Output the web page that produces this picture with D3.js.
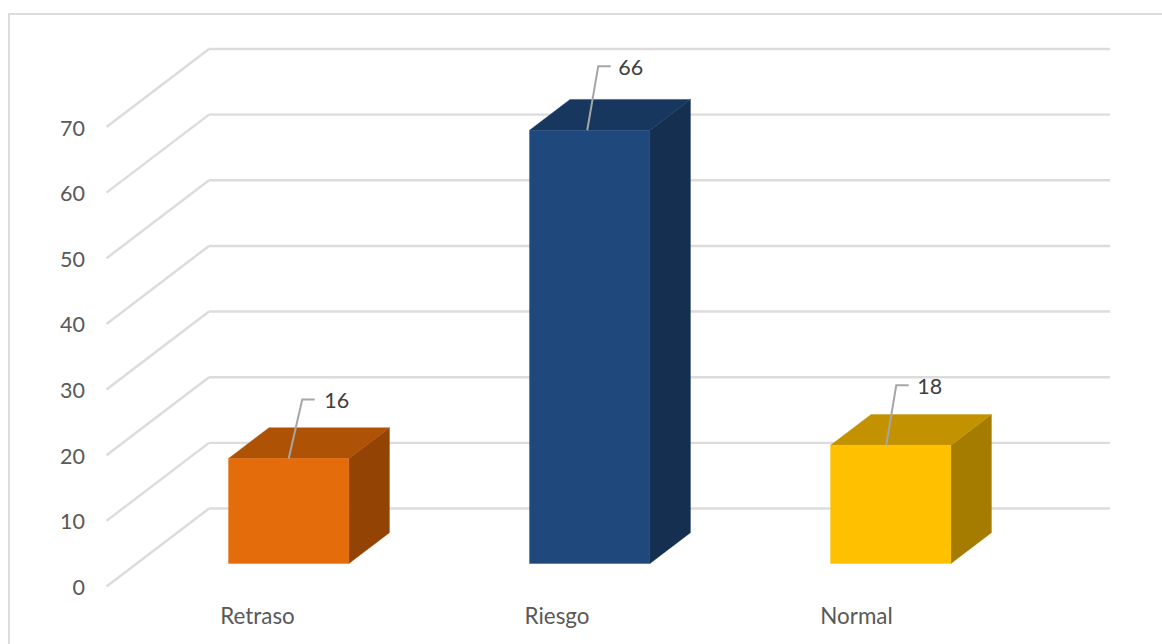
<!DOCTYPE html>
<html>
<head>
<meta charset="utf-8">
<script src="https://cdnjs.cloudflare.com/ajax/libs/d3/7.8.5/d3.min.js"></script>
<style>
html,body{margin:0;padding:0;background:#fff;}
svg{display:block;}
text{font-family:Lato,"Open Sans",sans-serif;}
</style>
</head>
<body>
<svg id="chart" width="1162" height="644"></svg>
<script>
const categories = ["Retraso", "Riesgo", "Normal"];
const values = [16, 66, 18];
const valueTicks = [0, 10, 20, 30, 40, 50, 60, 70];
const frontColors = ["#e46c0a", "#1f497d", "#ffc000"];
const topColors = ["#ae5206", "#17375e", "#c29200"];
const sideColors = ["#934405", "#142f50", "#a57c00"];

const svg = d3.select("#chart");

// Back wall of the 3D plot; the floor recedes from depth 1 (front) to 0 (back).
const xBack = d3.scaleBand().domain(categories).range([210.5, 1113.5]).paddingInner(0.6).paddingOuter(0.3);
const yBack = d3.scaleLinear().domain([0, 70]).range([508.5, 49]);
const depthX = d3.scaleLinear().domain([0, 1]).range([0, -102.5]);
const depthY = d3.scaleLinear().domain([0, 1]).range([0, 78]);
const xLabel = d3.scalePoint().domain(categories).range([257.5, 856.5]);
const barFront = 0.705, barBack = 0.31;

function project(x, value, depth) {
  return [x + depthX(depth), yBack(value) + depthY(depth)];
}
const poly = pts => pts.map(p => p.join(",")).join(" ");

// Chart area frame: left and top edges only
svg.append("path")
  .attr("d", "M9,644V14H1162")
  .attr("fill", "none").attr("stroke", "#dcdcdc").attr("stroke-width", 2);

// Gridlines along the back wall and down the side wall
const gridColor = "#dcdcdc";
svg.append("g").selectAll("line").data(valueTicks).join("line")
  .attr("x1", 209).attr("x2", 1110)
  .attr("y1", d => yBack(d)).attr("y2", d => yBack(d))
  .attr("stroke", gridColor).attr("stroke-width", 2.4);
svg.append("g").selectAll("line").data(valueTicks).join("line")
  .attr("x1", 209).attr("y1", d => yBack(d))
  .attr("x2", d => project(209, d, 1)[0]).attr("y2", d => project(209, d, 1)[1])
  .attr("stroke", gridColor).attr("stroke-width", 2.4);

// Value axis labels sit at the front edge of the side wall
svg.append("g").selectAll("text").data(valueTicks).join("text")
  .attr("x", 85).attr("y", d => project(209, d, 1)[1] + 1)
  .attr("dy", "0.35em").attr("text-anchor", "end")
  .attr("font-size", 21.5).attr("fill", "#595959")
  .text(d => d);

// Category labels below the front edge of the floor
svg.append("g").selectAll("text").data(categories).join("text")
  .attr("x", d => xLabel(d))
  .attr("y", 616.5).attr("dy", "0.35em").attr("text-anchor", "middle")
  .attr("font-size", 22.4).attr("fill", "#595959")
  .text(d => d);

// Bars: side face, top face, front face
const bars = svg.append("g").selectAll("g").data(categories).join("g");
bars.each(function (c, i) {
  const g = d3.select(this);
  const l = xBack(c), r = l + xBack.bandwidth(), v = values[i];
  const face = (color, pts) => g.append("polygon")
    .attr("fill", color).attr("stroke", color).attr("stroke-width", 0.4)
    .attr("points", poly(pts));
  face(sideColors[i], [project(r, v, barFront), project(r, v, barBack), project(r, 0, barBack), project(r, 0, barFront)]);
  face(topColors[i], [project(l, v, barFront), project(r, v, barFront), project(r, v, barBack), project(l, v, barBack)]);
  face(frontColors[i], [project(l, v, barFront), project(r, v, barFront), project(r, 0, barFront), project(l, 0, barFront)]);
});

// Data labels with elbow leader lines
const leaderRise = [59, 64, 60];
const leaderDx = [13.5, 11, 10];
const leaderShift = [0, -2.5, -4.5];
const labelGap = [22, 20, 21];
bars.each(function (c, i) {
  const g = d3.select(this);
  const [fx, fy] = project(xBack(c) + xBack.bandwidth() / 2, values[i], barFront);
  const sx = fx + leaderShift[i];
  const ex = sx + leaderDx[i], ey = fy - leaderRise[i];
  g.append("polyline").attr("fill", "none").attr("stroke", "#a6a6a6").attr("stroke-width", 2)
    .attr("points", poly([[sx, fy], [ex, ey], [ex + 12.5, ey]]));
  g.append("text").attr("x", ex + labelGap[i]).attr("y", ey + 1)
    .attr("dy", "0.35em").attr("font-size", 21.5).attr("fill", "#404040")
    .text(values[i]);
});
</script>
</body>
</html>
